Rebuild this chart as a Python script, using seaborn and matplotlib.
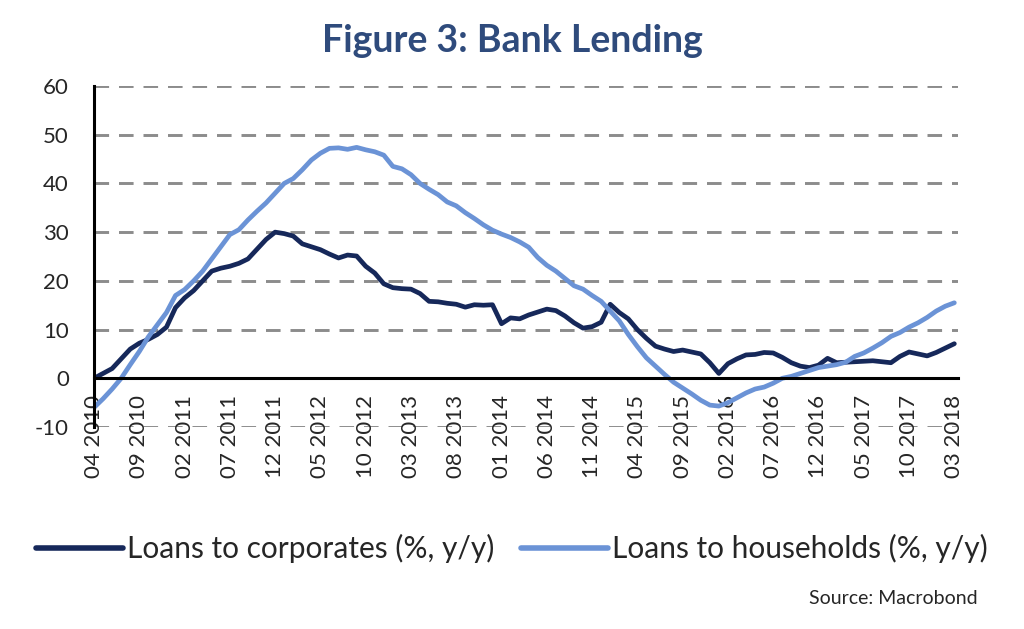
#!/usr/bin/env python
# coding: utf-8

import matplotlib
matplotlib.use('Agg')
import matplotlib.pyplot as plt
import seaborn as sns
import numpy as np
import pandas as pd

# monthly data, 04 2010 .. 03 2018
start_month = '2010-04'
n_months = 96

corporates = [
    0.0, 1.0, 2.0, 4.0, 6.0, 7.2, 8.0, 9.0, 10.5, 14.5,
    16.5, 18.0, 20.0, 22.0, 22.6, 23.0, 23.6, 24.5, 26.5, 28.5,
    30.0, 29.7, 29.2, 27.6, 27.0, 26.4, 25.5, 24.7, 25.3, 25.1,
    23.0, 21.6, 19.4, 18.6, 18.4, 18.3, 17.4, 15.8, 15.7, 15.4,
    15.2, 14.6, 15.1, 15.0, 15.1, 11.2, 12.4, 12.2, 13.0, 13.6,
    14.2, 13.9, 12.8, 11.4, 10.3, 10.6, 11.5, 15.2, 13.5, 12.2,
    10.0, 8.2, 6.6, 6.0, 5.5, 5.8, 5.4, 5.0, 3.2, 1.0,
    3.0, 4.0, 4.8, 4.9, 5.3, 5.2, 4.3, 3.2, 2.5, 2.2,
    2.7, 4.1, 3.2, 3.3, 3.4, 3.5, 3.6, 3.4, 3.2, 4.5,
    5.4, 5.0, 4.6, 5.3, 6.2, 7.1,
]

households = [
    -6.0, -4.2, -2.2, 0.0, 2.8, 5.5, 8.5, 11.0, 13.5, 17.0,
    18.2, 20.0, 22.0, 24.5, 27.0, 29.5, 30.5, 32.5, 34.3, 36.0,
    38.0, 40.0, 41.0, 42.8, 44.8, 46.2, 47.2, 47.3, 47.0, 47.4,
    46.9, 46.5, 45.8, 43.5, 43.0, 41.8, 40.0, 38.8, 37.7, 36.2,
    35.4, 34.0, 32.8, 31.5, 30.4, 29.6, 28.9, 28.0, 26.9, 24.8,
    23.2, 22.0, 20.5, 19.0, 18.3, 17.0, 15.8, 13.8, 11.8, 9.0,
    6.5, 4.2, 2.5, 0.8, -0.8, -2.0, -3.2, -4.5, -5.5, -5.7,
    -5.0, -4.0, -3.0, -2.2, -1.8, -1.0, 0.0, 0.4, 1.0, 1.6,
    2.2, 2.5, 2.8, 3.3, 4.5, 5.2, 6.2, 7.3, 8.6, 9.4,
    10.5, 11.4, 12.5, 13.8, 14.8, 15.5,
]

series_names = ['Loans to corporates (%, y/y)', 'Loans to households (%, y/y)']
series_colors = ['#16285a', '#6b93d6']

dates = pd.period_range(start_month, periods=n_months, freq='M')
tick_labels = [d.strftime('%m %Y') for d in dates]

df = pd.DataFrame({
    'idx': np.tile(np.arange(n_months), 2),
    'value': corporates + households,
    'series': [series_names[0]] * n_months + [series_names[1]] * n_months,
})

sns.set_style('white')
plt.rcParams['font.family'] = ['Lato', 'DejaVu Sans']
plt.rcParams['axes.unicode_minus'] = False

fig = plt.figure(figsize=(10.24, 6.29), dpi=100)
ax = fig.add_axes([0.0918, 0.3211, 0.8437, 0.5422])

# 軸線（ゼロ線に横軸を置く）
for s in ['top', 'right']:
    ax.spines[s].set_visible(False)
ax.spines['bottom'].set_position(('data', 0))
ax.spines['bottom'].set_color('black')
ax.spines['bottom'].set_linewidth(2.2)
ax.spines['left'].set_color('black')
ax.spines['left'].set_linewidth(2.2)

# グリッド線（破線）
for yv in [60, 50, 40, 30, 20, 10, -10]:
    ax.axhline(yv, color='#8c8c8c', lw=2.1, ls=(0, (5, 3.4)), zorder=0)

sns.lineplot(data=df, x='idx', y='value', hue='series', palette=series_colors,
             linewidth=3.4, ax=ax, legend=False)

ax.set_xlim(0, 95.4)
ax.set_ylim(-10, 60)
ax.set_yticks(range(-10, 61, 10))
ax.set_xticks(range(0, n_months, 5))
ax.set_xticklabels(tick_labels[::5])
ax.tick_params(axis='both', length=0, labelsize=16)
ax.tick_params(axis='y', pad=18)
ax.tick_params(axis='x', pad=12, labelrotation=90)
ax.set_xlabel('')
ax.set_ylabel('')

# タイトル
fig.text(0.5, 0.935, 'Figure 3: Bank Lending', ha='center', va='center',
         fontsize=27, fontweight='bold', color='#2f4b7c')

# 凡例
handles = [plt.Line2D([], [], color=c, lw=4) for c in series_colors]
fig.legend(handles, series_names, loc='center', bbox_to_anchor=(0.5, 0.128),
           ncol=2, frameon=False, fontsize=21.5, handlelength=2.9,
           handletextpad=0.15, columnspacing=0.9)

fig.text(0.955, 0.048, 'Source: Macrobond', ha='right', va='center', fontsize=14)

plt.savefig('out.png', dpi=100)
plt.close()
